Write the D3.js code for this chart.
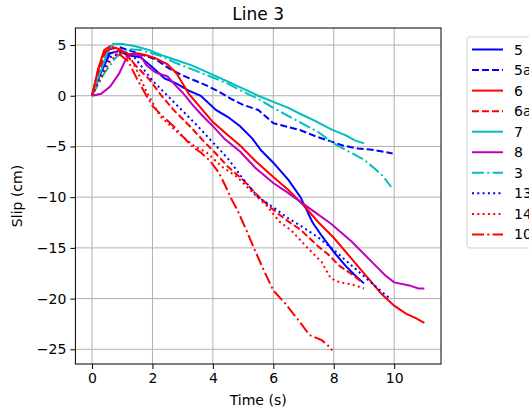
<!DOCTYPE html>
<html><head><meta charset="utf-8">
<script src="https://cdn.jsdelivr.net/npm/d3@7"></script>
<style>body{margin:0;background:#fff;}svg{display:block;font-family:"DejaVu Sans",sans-serif;}</style>
</head><body><svg id="c" width="529" height="412"></svg>
<script>
const title = "Line 3";
const xLabel = "Time (s)";
const yLabel = "Slip (cm)";
const xTicks = [0, 2, 4, 6, 8, 10];
const yTicks = [5, 0, -5, -10, -15, -20, -25];
const seriesNames = ["5", "5a", "6", "6a", "7", "8", "3", "13", "14", "10"];
const seriesColors = ["#0000ff", "#0000ff", "#ff0000", "#ff0000", "#00bfbf", "#bf00bf", "#00bfbf", "#0000ff", "#ff0000", "#ff0000"];
const seriesStyles = ["solid", "dashed", "solid", "dashed", "solid", "solid", "dashdot", "dotted", "dotted", "dashdot"];

const s5 = [[0,0],[0.3,2.3],[0.6,4.2],[0.9,4.4],[1.2,4.0],[1.6,3.8],[2.0,2.8],[2.4,1.7],[2.8,1.2],[3.2,0.5],[3.6,0.0],[4.1,-1.4],[4.5,-2.1],[4.9,-3.0],[5.3,-4.2],[5.6,-5.4],[6.0,-6.6],[6.5,-8.3],[6.9,-10.0],[7.3,-12.5],[7.6,-13.8],[8.0,-15.4],[8.4,-16.8],[8.7,-17.7],[9.0,-18.5]];
const s5a = [[0,0],[0.3,2.8],[0.6,4.6],[0.9,4.8],[1.2,4.5],[1.6,4.1],[2.1,3.6],[2.6,2.6],[3.0,2.0],[3.4,1.5],[3.8,1.0],[4.2,0.4],[4.6,-0.3],[5.0,-0.9],[5.5,-1.4],[6.0,-2.7],[6.5,-3.1],[6.9,-3.4],[7.4,-4.0],[7.8,-4.4],[8.3,-4.9],[8.8,-5.2],[9.2,-5.3],[9.6,-5.5],[9.95,-5.7]];
const s6 = [[0,0],[0.2,2.6],[0.4,4.5],[0.6,4.9],[0.9,4.6],[1.2,4.1],[1.5,4.2],[1.8,4.0],[2.1,3.7],[2.5,3.1],[2.8,2.2],[3.2,0.2],[3.6,-1.2],[4.0,-2.6],[4.5,-3.9],[4.9,-4.9],[5.4,-6.4],[6.0,-8.0],[6.5,-9.3],[7.0,-10.8],[7.5,-12.5],[8.0,-14.0],[8.6,-16.1],[9.2,-18.2],[9.6,-19.6],[10.0,-20.7],[10.4,-21.5],[10.7,-21.9],[11.0,-22.4]];
const s6a = [[0,0],[0.2,2.0],[0.4,4.0],[0.6,4.8],[0.9,4.4],[1.2,3.8],[1.5,2.8],[1.9,1.6],[2.3,0.0],[2.7,-1.4],[3.0,-2.3],[3.35,-3.35],[3.7,-4.5],[4.1,-5.7],[4.5,-7.0],[5.0,-8.3],[5.4,-9.6],[5.9,-11.0],[6.4,-12.2],[6.9,-13.2],[7.5,-14.9],[7.8,-15.6],[8.2,-16.8],[8.6,-17.6],[8.9,-18.3]];
const s7 = [[0,0],[0.3,2.5],[0.5,4.2],[0.7,5.1],[1.0,5.1],[1.4,4.9],[1.9,4.5],[2.3,4.0],[2.8,3.5],[3.3,3.0],[3.9,2.2],[4.5,1.4],[5.0,0.7],[5.5,0.0],[6.0,-0.6],[6.5,-1.2],[6.9,-1.8],[7.4,-2.5],[7.9,-3.3],[8.4,-3.9],[8.7,-4.4],[9.0,-4.7]];
const s8 = [[0,0],[0.3,0.2],[0.6,0.9],[0.9,2.2],[1.1,3.5],[1.3,4.1],[1.6,4.0],[1.8,3.0],[2.1,2.3],[2.5,1.9],[2.8,0.9],[3.0,0.3],[3.3,-0.8],[3.6,-1.8],[4.0,-3.0],[4.4,-4.3],[4.9,-5.5],[5.4,-7.1],[6.0,-8.6],[6.5,-9.6],[7.2,-11.1],[7.9,-12.6],[8.6,-14.4],[9.3,-16.5],[9.7,-17.7],[10.0,-18.4],[10.5,-18.7],[10.8,-19.0],[11.0,-19.0]];
const s3 = [[0,0],[0.4,2.2],[0.8,3.8],[1.2,4.6],[1.6,4.5],[2.2,4.0],[2.8,3.2],[3.4,2.5],[4.0,1.8],[4.5,1.2],[5.0,0.4],[5.5,-0.3],[6.0,-1.2],[6.5,-2.0],[7.0,-2.8],[7.5,-3.6],[8.0,-4.7],[8.5,-5.5],[9.0,-6.3],[9.4,-7.3],[9.65,-8.0],[9.9,-9.0]];
const s13 = [[0,0],[0.3,2.0],[0.6,3.8],[1.0,4.3],[1.4,3.8],[2.0,1.5],[2.5,0.0],[3.0,-1.5],[3.5,-3.0],[4.0,-4.6],[4.5,-6.2],[5.0,-8.2],[5.5,-10.0],[6.0,-11.0],[6.5,-12.1],[7.0,-13.0],[7.5,-14.0],[8.0,-15.2],[8.5,-16.5],[9.0,-17.8],[9.5,-19.1],[9.9,-20.1]];
const s14 = [[0,0],[0.3,1.8],[0.6,3.4],[0.9,4.3],[1.2,4.2],[1.5,2.4],[1.8,0.4],[2.25,-2.0],[2.9,-3.8],[3.4,-5.0],[3.8,-5.6],[4.3,-7.0],[4.8,-8.0],[5.3,-9.5],[5.8,-10.9],[6.2,-12.4],[6.6,-13.3],[7.1,-14.9],[7.6,-16.4],[7.9,-18.0],[8.2,-18.4],[8.6,-18.6],[9.0,-19.0]];
const s10 = [[0,0],[0.2,2.5],[0.4,4.3],[0.6,4.6],[0.9,4.1],[1.2,3.4],[1.5,1.6],[1.8,0.0],[2.0,-1.0],[2.4,-2.2],[2.7,-3.0],[3.0,-4.0],[3.35,-5.1],[3.6,-5.6],[3.9,-6.4],[4.2,-7.6],[4.4,-8.8],[4.6,-10.1],[4.8,-11.2],[5.1,-13.2],[5.4,-15.3],[5.7,-17.3],[6.0,-19.2],[6.4,-20.5],[6.9,-22.4],[7.2,-23.6],[7.6,-24.1],[7.8,-24.6],[7.95,-25.1]];
const seriesData = [s5, s5a, s6, s6a, s7, s8, s3, s13, s14, s10];

const dashMap = {solid: null, dashed: "7,3", dotted: "2,3.3", dashdot: "12,3.3,2,3.3"};

const svg = d3.select("#c");
const L = 75.4, R = 441, T = 28, B = 364;
const x = d3.scaleLinear().domain([-0.55, 11.55]).range([L, R]);
const y = d3.scaleLinear().domain([-26.45, 6.68]).range([B, T]);

// grid
const g = svg.append("g");
g.selectAll(".gx").data(xTicks).enter().append("line")
  .attr("x1", d => x(d)).attr("x2", d => x(d)).attr("y1", T).attr("y2", B)
  .attr("stroke", "#b0b0b0").attr("stroke-width", 1);
g.selectAll(".gy").data(yTicks).enter().append("line")
  .attr("y1", d => y(d)).attr("y2", d => y(d)).attr("x1", L).attr("x2", R)
  .attr("stroke", "#b0b0b0").attr("stroke-width", 1);

// clip
svg.append("clipPath").attr("id", "clip").append("rect")
  .attr("x", L).attr("y", T).attr("width", R - L).attr("height", B - T);

const line = d3.line().x(d => x(d[0])).y(d => y(d[1]));
const lines = svg.append("g").attr("clip-path", "url(#clip)");
seriesData.forEach((data, i) => {
  lines.append("path").datum(data).attr("d", line)
    .attr("fill", "none").attr("stroke", seriesColors[i]).attr("stroke-width", 2)
    .attr("stroke-dasharray", dashMap[seriesStyles[i]]);
});

// axes
const xAxis = d3.axisBottom(x).tickValues(xTicks).tickSize(5).tickPadding(4).tickFormat(d3.format("d"));
const yAxis = d3.axisLeft(y).tickValues(yTicks).tickSize(5).tickPadding(4)
  .tickFormat(d => d < 0 ? "\u2212" + Math.abs(d) : String(d));
const gx = svg.append("g").attr("transform", `translate(0,${B})`).call(xAxis);
const gy = svg.append("g").attr("transform", `translate(${L},0)`).call(yAxis);
[gx, gy].forEach(a => {
  a.select(".domain").remove();
  a.selectAll("text").attr("font-size", 14).attr("fill", "#000").attr("font-family", "DejaVu Sans");
  a.selectAll("line").attr("stroke", "#000");
});
svg.append("rect").attr("x", L).attr("y", T).attr("width", R - L).attr("height", B - T)
  .attr("fill", "none").attr("stroke", "#000").attr("stroke-width", 1);

// labels
svg.append("text").attr("x", (L + R) / 2).attr("y", 20).attr("text-anchor", "middle")
  .attr("font-size", 17).text(title);
svg.append("text").attr("x", (L + R) / 2).attr("y", 405).attr("text-anchor", "middle")
  .attr("font-size", 14).text(xLabel);
svg.append("text").attr("transform", `translate(22,${(T + B) / 2}) rotate(-90)`)
  .attr("text-anchor", "middle").attr("font-size", 14).text(yLabel);

// legend
const lg = svg.append("g");
lg.append("rect").attr("x", 467).attr("y", 37).attr("width", 100).attr("height", 211)
  .attr("rx", 3).attr("fill", "#fff").attr("stroke", "#d0d0d0").attr("stroke-width", 1);
seriesNames.forEach((n, i) => {
  const yy = 49.5 + i * 20.55;
  lg.append("line").attr("x1", 472).attr("x2", 503).attr("y1", yy).attr("y2", yy)
    .attr("stroke", seriesColors[i]).attr("stroke-width", 2)
    .attr("stroke-dasharray", dashMap[seriesStyles[i]]);
  lg.append("text").attr("x", 514).attr("y", yy + 5).attr("font-size", 14).text(n);
});
</script></body></html>
